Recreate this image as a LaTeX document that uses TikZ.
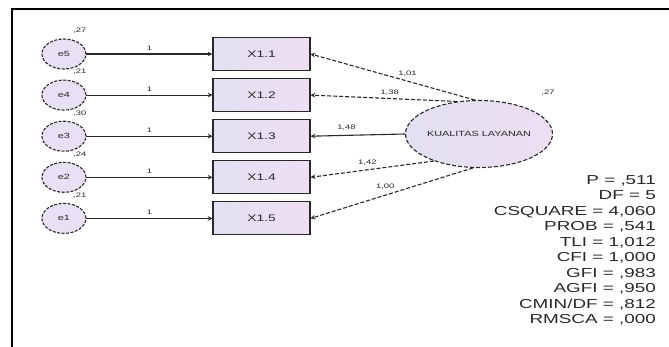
\documentclass[tikz,border=0pt]{standalone}
\usepackage{fontspec}
\setmainfont{Liberation Sans}[FakeStretch=1.45]
\usepackage{xcolor}
\usepackage{tikz}
\usetikzlibrary{positioning, arrows.meta, shapes, shapes.geometric, calc}

\definecolor{lavL}{RGB}{226,224,242}
\definecolor{lavR}{RGB}{238,222,242}
\definecolor{lavE}{RGB}{232,224,244}
\definecolor{ink}{RGB}{40,40,40}

\begin{document}
\begin{tikzpicture}[x=1pt, y=-1pt, node distance=7pt, auto]
        \tikzstyle{indicator} = [rectangle, draw=ink, line width=1.1pt, left color=lavL, right color=lavR, minimum width=97pt, minimum height=33pt, inner sep=0pt, text=ink, font=\fontsize{9.5}{11}\selectfont]
        \tikzstyle{errvar} = [ellipse, draw=ink, dash pattern=on 3pt off 1.5pt, line width=1.1pt, fill=lavE, minimum width=44pt, minimum height=30pt, inner sep=0pt, text=ink, font=\fontsize{7.5}{9}\selectfont]
        \tikzstyle{latent} = [ellipse, draw=ink, dash pattern=on 4pt off 2pt, line width=1.1pt, left color=lavL, right color=lavR, minimum width=138pt, minimum height=67pt, inner sep=0pt, text=ink, font=\fontsize{7.5}{9}\selectfont]
        \tikzstyle{arrow} = [line width=1.1pt, draw=ink, ->, >=stealth]
        \tikzstyle{val} = [inner sep=1pt, text=ink, font=\fontsize{6.5}{8}\selectfont]

        \useasboundingbox (0,0) rectangle (669,347);
        \draw [line width=2.4pt] (12,347) -- (12,9) -- (669,9);

        % indicators
        \node [indicator] at (261.5,54) (x11) {X1.1};
        \node [indicator, below=of x11] (x12) {X1.2};
        \node [indicator, below=of x12] (x13) {X1.3};
        \node [indicator, below=of x13] (x14) {X1.4};
        \node [indicator, below=of x14] (x15) {X1.5};

        % errors
        \node [errvar, left=126pt of x11] (e5) {e5};
        \node [errvar, left=126pt of x12] (e4) {e4};
        \node [errvar, left=126pt of x13] (e3) {e3};
        \node [errvar, left=126pt of x14] (e2) {e2};
        \node [errvar, left=126pt of x15] (e1) {e1};

        \node [val] at ([yshift=12pt]e5.north east) {,27};
        \node [val] at ([yshift=12pt]e4.north east) {,21};
        \node [val] at ([yshift=12pt]e3.north east) {,30};
        \node [val] at ([yshift=12pt]e2.north east) {,24};
        \node [val] at ([yshift=12pt]e1.north east) {,21};

        \draw [arrow] (e5) -- node [val, above=2pt] {1} (x11);
        \draw [arrow] (e4) -- node [val, above=2pt] {1} (x12);
        \draw [arrow] (e3) -- node [val, above=2pt] {1} (x13);
        \draw [arrow] (e2) -- node [val, above=2pt] {1} (x14);
        \draw [arrow] (e1) -- node [val, above=2pt] {1} (x15);

        % latent
        \node [latent] at (479,134) (kl) {KUALITAS LAYANAN};
        \node [val] at (548,93) (vkl) {,27};

        \draw [arrow, dash pattern=on 4pt off 2pt] (kl.97) -- node [val, above=3pt, pos=0.41] {1,01} (x11.east);
        \draw [arrow, dash pattern=on 4pt off 2pt] (kl.124) -- node [val, above=2pt, pos=0.46] {1,38} (x12.east);
        \draw [arrow] (kl.west) -- node [val, above=3pt, pos=0.62] {1,48} (x13.east);
        \draw [arrow, dash pattern=on 4pt off 2pt] (kl.211) -- node [val, above=3pt, pos=0.54] {1,42} (x14.east);
        \draw [arrow, dash pattern=on 4pt off 2pt] (kl.260) -- node [val, above=4pt, pos=0.54] {1,00} (x15.east);

        % fit
        \node [anchor=north east, align=right, inner sep=0pt, text=ink, font=\fontsize{13}{15.5}\selectfont] at (656,175) (fit) {P = ,511\\DF = 5\\CSQUARE = 4,060\\PROB = ,541\\TLI = 1,012\\CFI = 1,000\\GFI = ,983\\AGFI = ,950\\CMIN/DF = ,812\\RMSCA = ,000};
    \end{tikzpicture}
\end{document}
